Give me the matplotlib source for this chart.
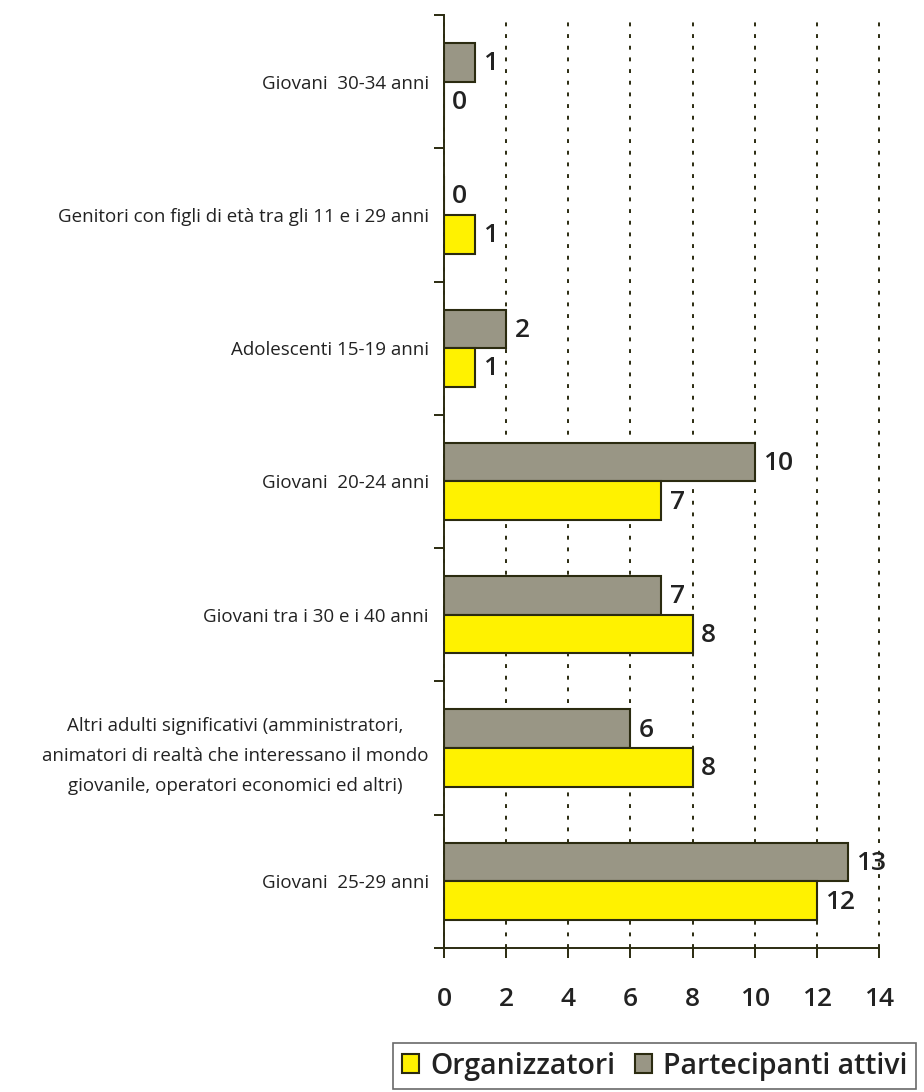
import matplotlib.pyplot as plt
import numpy as np

categories = ['Giovani  30-34 anni',
              'Genitori con figli di età tra gli 11 e i 29 anni',
              'Adolescenti 15-19 anni',
              'Giovani  20-24 anni',
              'Giovani tra i 30 e i 40 anni',
              'Altri adulti significativi (amministratori,\nanimatori di realtà che interessano il mondo\ngiovanile, operatori economici ed altri)',
              'Giovani  25-29 anni']
organizzatori = [0, 1, 1, 7, 8, 8, 12]
partecipanti = [1, 0, 2, 10, 7, 6, 13]
xticks = [0, 2, 4, 6, 8, 10, 12, 14]

plt.rcParams['font.family'] = ['Open Sans', 'DejaVu Sans']
edge = '#2b2b10'
yellow = '#fff200'
gray = '#999685'
text_color = '#222222'

fig = plt.figure(figsize=(9.24, 10.92), dpi=100)
ax = fig.add_axes([0.4805, 0.1319, 0.4708, 0.8544])

y = np.arange(len(categories))
h = 0.29
bars_p = ax.barh(y - h / 2, partecipanti, height=h, color=gray,
                 edgecolor=edge, linewidth=1.5, label='Partecipanti attivi',
                 zorder=3)
bars_o = ax.barh(y + h / 2, organizzatori, height=h, color=yellow,
                 edgecolor=edge, linewidth=1.5, label='Organizzatori',
                 zorder=3)

for bars, vals in [(bars_p, partecipanti), (bars_o, organizzatori)]:
    for b, v in zip(bars, vals):
        ax.annotate(str(v), (v, b.get_y() + b.get_height() / 2),
                    xytext=(6, -1), textcoords='offset points',
                    ha='left', va='center', fontsize=19, fontweight='semibold',
                    color=text_color, zorder=4)

ax.set_xlim(0, 14)
ax.set_ylim(len(categories) - 0.5, -0.5)
ax.set_xticks(xticks)
ax.set_xticklabels([str(t) for t in xticks], fontsize=19,
                   fontweight='semibold', color=text_color)
ax.set_yticks(y)
ax.set_yticklabels(categories, fontsize=13.5, color=text_color,
                   linespacing=1.85)
for t in ax.get_yticklabels():
    t.set_multialignment('center')
ax.tick_params(axis='y', length=0, pad=11)
ax.set_yticks(np.arange(-0.5, len(categories)), minor=True)
ax.tick_params(axis='y', which='minor', length=7, color=edge, width=1.4,
               direction='out')
ax.tick_params(axis='x', length=7, color=edge, width=1.4, direction='out',
               pad=21)

for s in ['top', 'right']:
    ax.spines[s].set_visible(False)
for s in ['left', 'bottom']:
    ax.spines[s].set_color(edge)
    ax.spines[s].set_linewidth(1.4)

ax.grid(axis='x', linestyle=(0, (2, 4)), color=edge, linewidth=1.4,
        zorder=0)
for line in ax.get_xgridlines():
    line.set_clip_on(False)

handles = [bars_o, bars_p]
leg = fig.legend(handles, ['Organizzatori', 'Partecipanti attivi'],
                 loc='upper left', bbox_to_anchor=(393 / 924, 1 - 1043 / 1092),
                 ncol=2, frameon=True, fancybox=False,
                 prop={'size': 20.5, 'weight': 'semibold'},
                 handlelength=0.6, handleheight=0.6, handletextpad=0.4,
                 columnspacing=0.7, borderpad=0.3, borderaxespad=0)
leg.get_frame().set_edgecolor('#444444')
leg.get_frame().set_linewidth(1.2)
for t in leg.get_texts():
    t.set_color(text_color)

plt.savefig('out.png', dpi=100)
